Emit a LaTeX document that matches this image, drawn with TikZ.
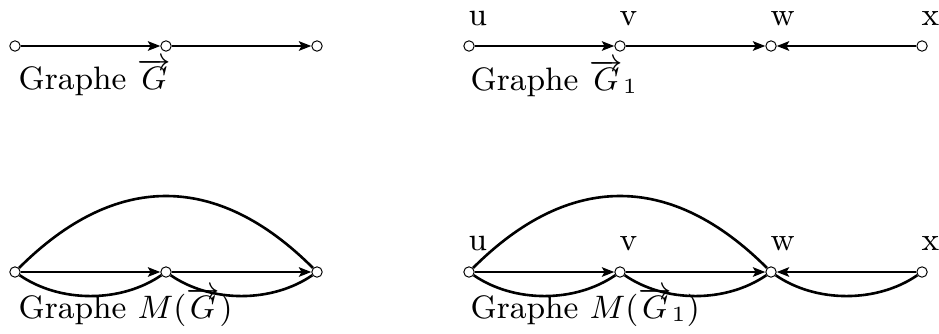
\documentclass[tikz,border=0pt]{standalone}
\usepackage{graphicx}
\usetikzlibrary{arrows.meta}
\newcommand\gtxt[1]{\scalebox{1.11}{\fontsize{9}{10.8}\selectfont #1}}
\begin{document}
\begin{tikzpicture}[x=0.3077pt,y=-0.3077pt,
  vtx/.style={circle,draw,fill=white,line width=0.3pt,minimum size=3.2pt,inner sep=0pt},
  edge/.style={line width=0.8pt},
  arc/.style={edge,-{Stealth[length=3.8pt,width=2.9pt,inset=0.8pt]}},
  lbl/.style={inner sep=0pt,anchor=base west},
]
\useasboundingbox (0,0) rectangle (939,333);
% top left
\node[vtx] (a1) at (15,46) {};
\node[vtx] (a2) at (166,46) {};
\node[vtx] (a3) at (317,46) {};
\draw[arc] (a1) -- (a2);
\draw[arc] (a2) -- (a3);
\node[lbl] (ta) at (18,89) {\gtxt{Graphe $\overrightarrow{G}$}};
% top right
\node[vtx] (u1) at (469,46) {};
\node[vtx] (v1) at (620,46) {};
\node[vtx] (w1) at (771,46) {};
\node[vtx] (x1) at (922,46) {};
\draw[arc] (u1) -- (v1);
\draw[arc] (v1) -- (w1);
\draw[arc] (x1) -- (w1);
\node[lbl] (lu1) at (468,25) {\gtxt{u}};
\node[lbl] (lv1) at (619,25) {\gtxt{v}};
\node[lbl] (lw1) at (770,25) {\gtxt{w}};
\node[lbl] (lx1) at (921,25) {\gtxt{x}};
\node[lbl] (tb) at (470,90) {\gtxt{Graphe $\overrightarrow{G}_1$}};
% bottom left
\node[vtx] (b1) at (15,272) {};
\node[vtx] (b2) at (166,272) {};
\node[vtx] (b3) at (317,272) {};
\draw[arc] (b1) -- (b2);
\draw[arc] (b2) -- (b3);
\draw[edge] (b1) .. controls (115,172) and (217,172) .. (b3);
\draw[edge] (b1) .. controls (60,303) and (121,303) .. (b2);
\draw[edge] (b2) .. controls (211,303) and (272,303) .. (b3);
\node[lbl] (tc) at (18,318) {\gtxt{Graphe $M(\overrightarrow{G})$}};
% bottom right
\node[vtx] (u2) at (469,272) {};
\node[vtx] (v2) at (620,272) {};
\node[vtx] (w2) at (771,272) {};
\node[vtx] (x2) at (922,272) {};
\draw[arc] (u2) -- (v2);
\draw[arc] (v2) -- (w2);
\draw[arc] (x2) -- (w2);
\draw[edge] (u2) .. controls (569,172) and (671,172) .. (w2);
\draw[edge] (u2) .. controls (514,303) and (575,303) .. (v2);
\draw[edge] (v2) .. controls (665,303) and (726,303) .. (w2);
\draw[edge] (w2) .. controls (816,303) and (877,303) .. (x2);
\node[lbl] (lu2) at (468,250) {\gtxt{u}};
\node[lbl] (lv2) at (619,250) {\gtxt{v}};
\node[lbl] (lw2) at (770,250) {\gtxt{w}};
\node[lbl] (lx2) at (921,250) {\gtxt{x}};
\node[lbl] (td) at (470,318) {\gtxt{Graphe $M(\overrightarrow{G}_1)$}};
\end{tikzpicture}
\end{document}
